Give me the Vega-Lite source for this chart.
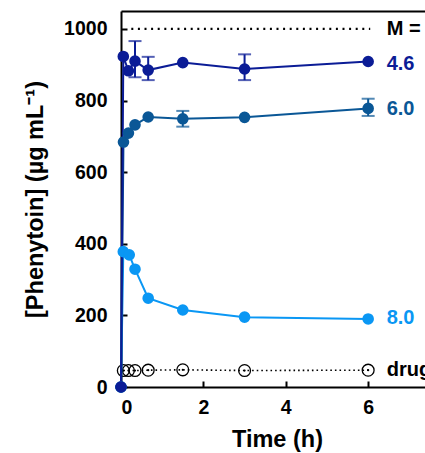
{
  "$schema": "https://vega.github.io/schema/vega-lite/v6.json",
  "width": 304,
  "height": 376,
  "autosize": {"type": "none"},
  "padding": {"left": 121, "top": 11, "right": 0, "bottom": 66},
  "config": {
    "font": "Liberation Sans",
    "view": {"stroke": null},
    "axis": {
      "domainColor": "black", "domainWidth": 2, "tickColor": "black", "tickWidth": 2,
      "labelFont": "Liberation Sans", "labelFontWeight": "bold", "labelFontSize": 19.5, "labelColor": "black",
      "titleFont": "Liberation Sans", "titleFontWeight": "bold", "titleFontSize": 23.5, "titleColor": "black",
      "grid": false
    }
  },
  "datasets": {
    "mline": [{"t": 0.25, "t2": 6.05, "v": 1000}],
    "drug": [
      {"t": 0.056, "v": 46}, {"t": 0.18, "v": 46}, {"t": 0.34, "v": 46}, {"t": 0.66, "v": 47},
      {"t": 1.5, "v": 48}, {"t": 3, "v": 46}, {"t": 6, "v": 47}
    ],
    "series": [
      {"s": "8.0", "o": 1, "t": 0, "v": 0}, {"s": "8.0", "o": 1, "t": 0.056, "v": 378}, {"s": "8.0", "o": 1, "t": 0.2, "v": 369},
      {"s": "8.0", "o": 1, "t": 0.34, "v": 329}, {"s": "8.0", "o": 1, "t": 0.66, "v": 248}, {"s": "8.0", "o": 1, "t": 1.5, "v": 215},
      {"s": "8.0", "o": 1, "t": 3, "v": 195}, {"s": "8.0", "o": 1, "t": 6, "v": 190},
      {"s": "6.0", "o": 2, "t": 0, "v": 0}, {"s": "6.0", "o": 2, "t": 0.06, "v": 684}, {"s": "6.0", "o": 2, "t": 0.18, "v": 709},
      {"s": "6.0", "o": 2, "t": 0.34, "v": 732}, {"s": "6.0", "o": 2, "t": 0.66, "v": 754}, {"s": "6.0", "o": 2, "t": 1.5, "v": 749},
      {"s": "6.0", "o": 2, "t": 3, "v": 753}, {"s": "6.0", "o": 2, "t": 6, "v": 778},
      {"s": "4.6", "o": 3, "t": 0, "v": 0}, {"s": "4.6", "o": 3, "t": 0.056, "v": 923}, {"s": "4.6", "o": 3, "t": 0.18, "v": 883},
      {"s": "4.6", "o": 3, "t": 0.34, "v": 910}, {"s": "4.6", "o": 3, "t": 0.66, "v": 885}, {"s": "4.6", "o": 3, "t": 1.5, "v": 906},
      {"s": "4.6", "o": 3, "t": 3, "v": 888}, {"s": "4.6", "o": 3, "t": 6, "v": 909}
    ],
    "err": [
      {"s": "4.6", "t": 0.34, "v": 865, "v2": 966},
      {"s": "4.6", "t": 0.66, "v": 857, "v2": 922},
      {"s": "4.6", "t": 3, "v": 857, "v2": 929},
      {"s": "6.0", "t": 1.5, "v": 727, "v2": 771},
      {"s": "6.0", "t": 6, "v": 757, "v2": 805}
    ],
    "labels": [
      {"lab": "M =", "s": "M", "t": 6.45, "v": 1000},
      {"lab": "4.6", "s": "4.6", "t": 6.45, "v": 902},
      {"lab": "6.0", "s": "6.0", "t": 6.45, "v": 776},
      {"lab": "8.0", "s": "8.0", "t": 6.45, "v": 193},
      {"lab": "drug", "s": "drug", "t": 6.45, "v": 47}
    ]
  },
  "layer": [
    {
      "data": {"name": "mline"},
      "mark": {"type": "rule", "color": "black", "strokeWidth": 2.2, "strokeDash": [2, 4.6]},
      "encoding": {
        "x": {"field": "t", "type": "quantitative", "scale": {"domain": [0, 7.38], "nice": false, "zero": false},
              "axis": {"orient": "top", "labels": false, "ticks": false, "title": null}},
        "x2": {"field": "t2"},
        "y": {"field": "v", "type": "quantitative", "title": "[Phenytoin] (µg mL⁻¹)"}
      }
    },
    {
      "data": {"name": "drug"},
      "mark": {"type": "line", "color": "black", "strokeWidth": 1.6, "strokeDash": [1.6, 3]},
      "encoding": {
        "x": {"field": "t", "type": "quantitative", "axis": null},
        "y": {"field": "v", "type": "quantitative", "title": "[Phenytoin] (µg mL⁻¹)"}
      }
    },
    {
      "data": {"name": "drug"},
      "mark": {"type": "point", "shape": "circle", "filled": false, "color": "black", "strokeWidth": 1.3, "size": 140, "opacity": 1},
      "encoding": {
        "x": {"field": "t", "type": "quantitative", "axis": null},
        "y": {"field": "v", "type": "quantitative", "title": "[Phenytoin] (µg mL⁻¹)"}
      }
    },
    {
      "data": {"name": "drug"},
      "mark": {"type": "point", "shape": "circle", "filled": true, "color": "black", "size": 5, "opacity": 1},
      "encoding": {
        "x": {"field": "t", "type": "quantitative", "axis": null},
        "y": {"field": "v", "type": "quantitative", "title": "[Phenytoin] (µg mL⁻¹)"}
      }
    },
    {
      "data": {"name": "series"},
      "mark": {"type": "line", "strokeWidth": 2},
      "encoding": {
        "x": {"field": "t", "type": "quantitative", "title": "Time (h)",
              "axis": {"values": [0, 2, 4, 6], "tickSize": -6, "labelPadding": 17, "titlePadding": 11, "titleX": 156}},
        "y": {"field": "v", "type": "quantitative", "title": "[Phenytoin] (µg mL⁻¹)",
              "scale": {"domain": [0, 1050], "nice": false},
              "axis": {"values": [0, 100, 200, 300, 400, 500, 600, 700, 800, 900, 1000],
                       "labelExpr": "datum.value % 200 === 0 ? datum.label : ''",
                       "format": "d",
                       "tickSize": {"condition": {"test": "datum.value % 200 === 0", "value": -6}, "value": -4},
                       "labelPadding": 20, "titlePadding": 16}},
        "color": {"field": "s", "type": "nominal", "legend": null,
                  "scale": {"domain": ["4.6", "6.0", "8.0", "drug", "M"], "range": ["#0b1c96", "#0a5796", "#0a97f4", "black", "black"]}},
        "order": {"field": "o"}
      }
    },
    {
      "data": {"name": "err"},
      "mark": {"type": "errorbar", "ticks": {"size": 13, "thickness": 2}, "thickness": 2},
      "encoding": {
        "x": {"field": "t", "type": "quantitative", "axis": null},
        "y": {"field": "v", "type": "quantitative", "title": "[Phenytoin] (µg mL⁻¹)"},
        "y2": {"field": "v2"},
        "color": {"field": "s", "type": "nominal", "legend": null}
      }
    },
    {
      "data": {"name": "series"},
      "mark": {"type": "point", "shape": "circle", "filled": true, "size": 135, "opacity": 1},
      "encoding": {
        "x": {"field": "t", "type": "quantitative", "axis": null},
        "y": {"field": "v", "type": "quantitative", "title": "[Phenytoin] (µg mL⁻¹)"},
        "color": {"field": "s", "type": "nominal", "legend": null},
        "order": {"field": "o"}
      }
    },
    {
      "data": {"name": "labels"},
      "mark": {"type": "text", "align": "left", "baseline": "middle", "fontSize": 20, "fontWeight": "bold", "font": "Liberation Sans"},
      "encoding": {
        "x": {"field": "t", "type": "quantitative", "axis": null},
        "y": {"field": "v", "type": "quantitative", "title": "[Phenytoin] (µg mL⁻¹)"},
        "text": {"field": "lab"},
        "color": {"field": "s", "type": "nominal", "legend": null}
      }
    }
  ],
  "resolve": {"axis": {"x": "independent"}}
}
